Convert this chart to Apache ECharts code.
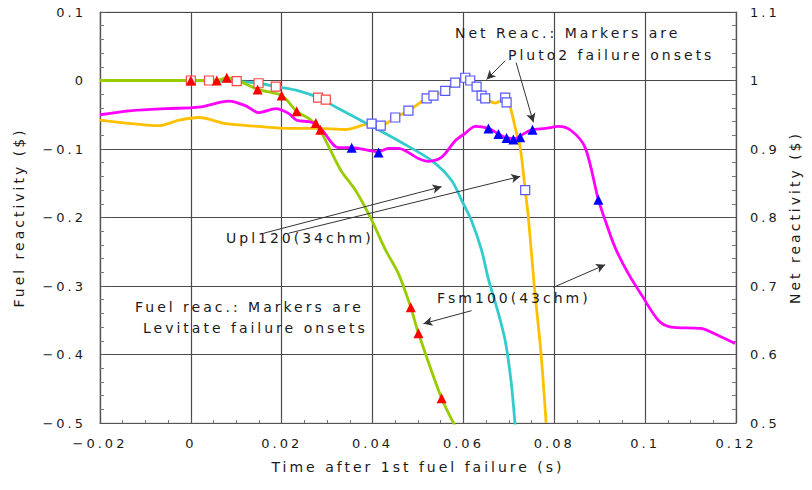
<!DOCTYPE html>
<html>
<head>
<meta charset="utf-8">
<script src="https://cdn.jsdelivr.net/npm/echarts@6/dist/echarts.min.js"></script>
<style>
  html, body { margin: 0; padding: 0; background: #fff; }
  #chart { width: 812px; height: 490px; }
  #chart text { letter-spacing: 3px; }
</style>
</head>
<body>
<div id="chart"></div>
<script>
// Time after 1st fuel failure (s)
const X_MIN = -0.02, X_MAX = 0.12, X_STEP = 0.02;
const FUEL_MIN = -0.5, FUEL_MAX = 0.1;
const NET_MIN = 0.5, NET_MAX = 1.1;

// Fsm100(43chm) fuel reactivity ($)
const fsmFuelT = [-0.02, 0, 0.0057, 0.0079, 0.011, 0.0147, 0.02, 0.0233, 0.0265, 0.0285, 0.0297, 0.033, 0.0363, 0.0396, 0.0429, 0.0457, 0.0484, 0.0501, 0.0552, 0.0582];
const fsmFuelV = [0, 0, 0, 0.004, -0.002, -0.013, -0.022, -0.045, -0.058, -0.074, -0.088, -0.131, -0.161, -0.201, -0.248, -0.282, -0.331, -0.369, -0.464, -0.505];

// Upl120(34chm) fuel reactivity ($)
const uplFuelT = [-0.02, 0, 0.0101, 0.0149, 0.0189, 0.0237, 0.0281, 0.0325, 0.0385, 0.0457, 0.053, 0.0574, 0.0596, 0.0618, 0.064, 0.0655, 0.0677, 0.0692, 0.0705, 0.0714];
const uplFuelV = [0, 0, -0.0015, -0.004, -0.009, -0.015, -0.025, -0.041, -0.062, -0.088, -0.117, -0.146, -0.175, -0.205, -0.248, -0.29, -0.34, -0.38, -0.44, -0.505];

// Upl120(34chm) net reactivity ($)
const uplNetT = [-0.02, -0.013, -0.007, -0.0026, 0.0018, 0.0077, 0.0149, 0.0215, 0.0281, 0.034, 0.0396, 0.0418, 0.045, 0.0479, 0.0519, 0.0534, 0.056, 0.0582, 0.0604, 0.0615, 0.0629, 0.064, 0.0648, 0.067, 0.0692, 0.0703, 0.0714, 0.0725, 0.0736, 0.0743, 0.0756, 0.0771, 0.0782];
const uplNetV = [0.942, 0.937, 0.934, 0.942, 0.946, 0.937, 0.933, 0.930, 0.930, 0.9285, 0.937, 0.934, 0.946, 0.956, 0.974, 0.978, 0.985, 0.997, 1.004, 1.000, 0.991, 0.978, 0.974, 0.967, 0.975, 0.961, 0.931, 0.902, 0.840, 0.800, 0.700, 0.600, 0.500];

// Fsm100(43chm) net reactivity ($)
const fsmNetT = [-0.02, -0.013, -0.0055, 0.0018, 0.0084, 0.0121, 0.0149, 0.0187, 0.0215, 0.0233, 0.0266, 0.0288, 0.0325, 0.0354, 0.0413, 0.0435, 0.0457, 0.0501, 0.0523, 0.0552, 0.0582, 0.0604, 0.0626, 0.0655, 0.0677, 0.0692, 0.0714, 0.0727, 0.075, 0.078, 0.0809, 0.0837, 0.0868, 0.0897, 0.0912, 0.0934, 0.0963, 0.0993, 0.1029, 0.1057, 0.1123, 0.116, 0.1198];
const fsmNetV = [0.950, 0.956, 0.959, 0.961, 0.970, 0.963, 0.953, 0.959, 0.952, 0.942, 0.939, 0.928, 0.902, 0.902, 0.896, 0.901, 0.901, 0.886, 0.882, 0.888, 0.912, 0.923, 0.933, 0.930, 0.922, 0.917, 0.915, 0.920, 0.928, 0.930, 0.933, 0.927, 0.902, 0.826, 0.796, 0.756, 0.718, 0.686, 0.650, 0.640, 0.638, 0.628, 0.616];

// Levitate failure onsets (fuel reactivity markers)
const levFsmT = [0, 0.0057, 0.0079, 0.0147, 0.02, 0.0233, 0.0275, 0.0285, 0.0484, 0.0501, 0.0552];
const levFsmV = [0, 0, 0.004, -0.013, -0.022, -0.045, -0.062, -0.072, -0.331, -0.369, -0.464];
const levUplT = [0, 0.004, 0.0101, 0.0149, 0.0187, 0.028, 0.0297];
const levUplV = [0, 0, -0.001, -0.004, -0.009, -0.025, -0.028];

// Pluto2 failure onsets (net reactivity markers)
const pluUplT = [0.0398, 0.0418, 0.045, 0.0479, 0.0519, 0.0534, 0.056, 0.0582, 0.0604, 0.0615, 0.0629, 0.064, 0.0648, 0.0692, 0.0695, 0.0736];
const pluUplV = [0.937, 0.934, 0.946, 0.956, 0.974, 0.978, 0.985, 0.997, 1.004, 1.000, 0.991, 0.978, 0.974, 0.975, 0.968, 0.840];
const pluFsmT = [0.0354, 0.0413, 0.0655, 0.0677, 0.0695, 0.071, 0.0725, 0.0752, 0.0897];
const pluFsmV = [0.902, 0.895, 0.930, 0.922, 0.916, 0.914, 0.917, 0.928, 0.826];

// Annotation arrows, in (time, fuel reactivity) units: [from, to]
const arrows = [
  [[0.0692, 0.029], [0.0651, 0.0015]],
  [[0.0716, 0.026], [0.0754, -0.061]],
  [[0.016, -0.223], [0.0552, -0.155]],
  [[0.0215, -0.223], [0.0725, -0.140]],
  [[0.0618, -0.336], [0.0512, -0.355]],
  [[0.0798, -0.302], [0.0912, -0.269]]
];

const zip = (a, b) => a.map((v, i) => [v, b[i]]);
const FONT = 'DejaVu Sans';
const TXT = '#1a1a1a';
const fmt = v => {
  const s = String(parseFloat(v.toFixed(3)));
  return s.replace('-', '\u2212');
};

const chart = echarts.init(document.getElementById('chart'), null, { renderer: 'svg' });

const axisLbl = { color: TXT, fontFamily: FONT, fontSize: 13, formatter: fmt };
const nameStyle = { color: TXT, fontFamily: FONT, fontSize: 14 };

const lineSeries = (name, t, v, color, yIdx, extra) => Object.assign({
  name, type: 'line', yAxisIndex: yIdx, data: zip(t, v),
  showSymbol: false, smooth: 0.3, clip: true,
  lineStyle: { color, width: 2.8 }, itemStyle: { color },
  silent: true, animation: false, z: 2
}, extra || {});

const markerSeries = (name, t, v, yIdx, symbol, fill, border) => ({
  name, type: 'scatter', yAxisIndex: yIdx, data: zip(t, v),
  symbol, symbolSize: symbol === 'triangle' ? 10 : 9,
  itemStyle: { color: fill, borderColor: border, borderWidth: symbol === 'rect' ? 1.2 : 0, opacity: 1 },
  silent: true, animation: false, z: 4
});

const annot = (text, x, y) => ({
  type: 'text', x, y, silent: true, z: 100,
  style: { text, fill: TXT, font: '14px ' + FONT, verticalAlign: 'middle', align: 'left' }
});

chart.setOption({
  animation: false,
  backgroundColor: '#fff',
  grid: { left: 100, right: 76, top: 12, bottom: 67, show: true, borderColor: '#c8c8c8', borderWidth: 1 },
  xAxis: {
    type: 'value', min: X_MIN, max: X_MAX, interval: X_STEP,
    name: 'Time after 1st fuel failure (s)', nameLocation: 'middle', nameGap: 37,
    nameTextStyle: nameStyle,
    axisLine: { show: true, onZero: false, lineStyle: { color: '#555', width: 1.2 } },
    axisTick: { show: true, inside: true, length: 5, lineStyle: { color: '#555' } },
    minorTick: { show: true, splitNumber: 4, length: 3, lineStyle: { color: '#777' } },
    axisLabel: Object.assign({ margin: 14 }, axisLbl),
    splitLine: { show: true, lineStyle: { color: '#4a4a4a', width: 1.2 } }
  },
  yAxis: [
    {
      type: 'value', min: FUEL_MIN, max: FUEL_MAX, interval: 0.1, position: 'left',
      name: 'Fuel reactivity ($)', nameLocation: 'middle', nameGap: 74, nameRotate: 90,
      nameTextStyle: nameStyle,
      axisLine: { show: true, onZero: false, lineStyle: { color: '#555', width: 1.2 } },
      axisTick: { show: true, inside: true, length: 6, lineStyle: { color: '#555' } },
      minorTick: { show: true, splitNumber: 5, length: 4, lineStyle: { color: '#777' } },
      axisLabel: Object.assign({ margin: 14 }, axisLbl),
      splitLine: { show: true, lineStyle: { color: '#4a4a4a', width: 1.2 } }
    },
    {
      type: 'value', min: NET_MIN, max: NET_MAX, interval: 0.1, position: 'right',
      name: 'Net reactivity ($)', nameLocation: 'middle', nameGap: 52, nameRotate: 90,
      nameTextStyle: nameStyle,
      axisLine: { show: true, onZero: false, lineStyle: { color: '#555', width: 1.2 } },
      axisTick: { show: true, inside: true, length: 6, lineStyle: { color: '#555' } },
      minorTick: { show: true, splitNumber: 5, length: 4, lineStyle: { color: '#777' } },
      axisLabel: Object.assign({ margin: 14 }, axisLbl),
      splitLine: { show: false }
    }
  ],
  series: [
    lineSeries('Upl120 net', uplNetT, uplNetV, '#ffc000', 1),
    lineSeries('Upl120 fuel', uplFuelT, uplFuelV, '#33cccc', 0),
    lineSeries('Fsm100 fuel', fsmFuelT, fsmFuelV, '#99cc00', 0, {
      markLine: {
        silent: true, animation: false,
        symbol: ['none', 'arrow'], symbolSize: [7, 9],
        label: { show: false },
        lineStyle: { color: '#333', width: 1, type: 'solid' },
        data: arrows.map(([a, b]) => [{ coord: a }, { coord: b }])
      }
    }),
    lineSeries('Fsm100 net', fsmNetT, fsmNetV, '#ff00ff', 1),
    markerSeries('Levitate Upl120', levUplT, levUplV, 0, 'rect', '#ffffff', '#ff4444'),
    markerSeries('Levitate Fsm100', levFsmT, levFsmV, 0, 'triangle', '#ff0000', '#ff0000'),
    markerSeries('Pluto2 Upl120', pluUplT, pluUplV, 1, 'rect', '#ffffff', '#5555ff'),
    markerSeries('Pluto2 Fsm100', pluFsmT, pluFsmV, 1, 'triangle', '#0000ff', '#0000ff')
  ],
  graphic: [
    annot('Net Reac.: Markers are', 455, 33),
    annot('Pluto2 failure onsets', 508, 55),
    annot('Upl120(34chm)', 226, 238),
    annot('Fuel reac.: Markers are', 135, 307),
    annot('Levitate failure onsets', 143, 328),
    annot('Fsm100(43chm)', 437, 298)
  ]
});
</script>
</body>
</html>
